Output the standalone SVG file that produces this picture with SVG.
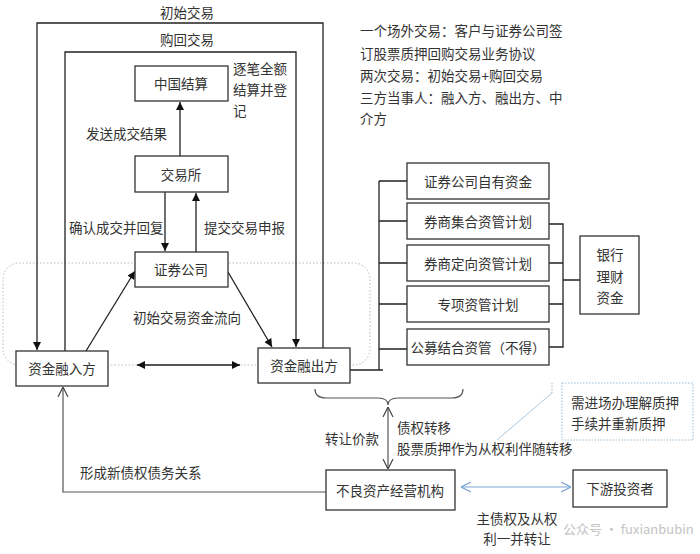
<svg xmlns="http://www.w3.org/2000/svg" width="700" height="554" viewBox="0 0 700 554">
<style>
text{font-family:"Noto Sans CJK SC","Liberation Sans",sans-serif;font-size:13.5px;fill:#333;}
.c{text-anchor:middle;dominant-baseline:central;}
.l{dominant-baseline:central;}
.box{fill:#fff;stroke:#333;stroke-width:1.3;}
.ln{fill:none;stroke:#222;stroke-width:1.3;}
.gl{fill:none;stroke:#555;stroke-width:1.2;}
.bl{fill:none;stroke:#7aa7d6;stroke-width:1.2;}
</style>
<defs>
<marker id="tri" viewBox="0 0 10 10" refX="10" refY="5" markerWidth="9" markerHeight="8" markerUnits="userSpaceOnUse" orient="auto-start-reverse">
<path d="M0,0 L10,5 L0,10 Z" fill="#111"/>
</marker>
<marker id="vee" viewBox="0 0 10 10" refX="10" refY="5" markerWidth="10" markerHeight="12" markerUnits="userSpaceOnUse" orient="auto-start-reverse">
<path d="M0,0 L10,5 L0,10" fill="none" stroke="#444" stroke-width="1.2"/>
</marker>
<marker id="bvee" viewBox="0 0 10 10" refX="10" refY="5" markerWidth="10" markerHeight="12" markerUnits="userSpaceOnUse" orient="auto-start-reverse">
<path d="M0,0 L10,5 L0,10" fill="none" stroke="#7aa7d6" stroke-width="1.2"/>
</marker>
</defs>
<rect width="700" height="554" fill="#fff"/>

<rect x="3" y="263" width="367" height="102" rx="16" fill="none" stroke="#bbb" stroke-width="1" stroke-dasharray="1.5 2"/>

<g id="connectors">
<path class="ln" d="M323,348 V23 H37 V350" marker-end="url(#tri)"/>
<path class="ln" d="M65,351 V52 H296 V347" marker-end="url(#tri)"/>
<path class="ln" d="M180,156 V102" marker-end="url(#tri)"/>
<path class="ln" d="M165,192 V251" marker-end="url(#tri)"/>
<path class="ln" d="M196,252 V193" marker-end="url(#tri)"/>
<path class="ln" d="M86,351 L135,271" marker-end="url(#tri)"/>
<path class="ln" d="M228,272 L272,347" marker-end="url(#tri)"/>
<path class="ln" d="M137,365 H240" marker-start="url(#tri)" marker-end="url(#tri)"/>
<path class="ln" d="M350,370 H383 M379,181 V370 M379,181 H407 M379,221 H407 M379,263 H407 M379,304 H407 M379,349 H407"/>
<path class="ln" d="M549,224 H563 V347 H549 M549,263 H563 M549,304 H563 M563,280 H580"/>
<path class="gl" d="M315,389 Q315,398 326,398 L378,398 Q388,398 388,405 Q388,398 398,398 L452,398 Q463,398 463,389"/>
<path class="gl" d="M388,407 V469" marker-start="url(#vee)" marker-end="url(#vee)"/>
<path d="M552,383 V393" fill="none" stroke="#9bbcd6" stroke-width="1" stroke-dasharray="1.5 1.5"/>
<path d="M552,393 L497,440" fill="none" stroke="#a9c8e0" stroke-width="1"/>
<path class="bl" d="M461,487 H571" marker-start="url(#bvee)" marker-end="url(#bvee)"/>
<path class="gl" d="M326,492 H63 V387" marker-end="url(#vee)"/>
</g>

<g id="n-zgjs"><rect class="box" x="135" y="66" width="93" height="35"/><text class="c" x="181" y="83">中国结算</text></g>
<g id="n-jys"><rect class="box" x="135" y="156" width="93" height="36"/><text class="c" x="181" y="174">交易所</text></g>
<g id="n-zqgs"><rect class="box" x="135" y="252" width="93" height="35"/><text class="c" x="181" y="269">证券公司</text></g>
<g id="n-rrf"><rect class="box" x="16" y="351" width="92" height="35"/><text class="c" x="62" y="368">资金融入方</text></g>
<g id="n-rcf"><rect class="box" x="258" y="348" width="92" height="35"/><text class="c" x="304" y="365">资金融出方</text></g>
<g id="n-b1"><rect class="box" x="407" y="163" width="142" height="36"/><text class="c" x="478" y="181">证券公司自有资金</text></g>
<g id="n-b2"><rect class="box" x="407" y="203" width="142" height="36"/><text class="c" x="478" y="221">券商集合资管计划</text></g>
<g id="n-b3"><rect class="box" x="407" y="245" width="142" height="36"/><text class="c" x="478" y="263">券商定向资管计划</text></g>
<g id="n-b4"><rect class="box" x="407" y="286" width="142" height="36"/><text class="c" x="478" y="304">专项资管计划</text></g>
<g id="n-b5"><rect class="box" x="407" y="329" width="142" height="36"/><text class="c" x="478" y="347">公募结合资管（不得）</text></g>
<g id="n-yh"><rect class="box" x="580" y="236" width="59" height="78"/><text class="c" x="610" y="254">银行</text><text class="c" x="610" y="276">理财</text><text class="c" x="610" y="297">资金</text></g>
<g id="n-bl"><rect class="box" x="326" y="470" width="129" height="40"/><text class="c" x="390" y="490">不良资产经营机构</text></g>
<g id="n-xy"><rect class="box" x="573" y="470" width="94" height="37"/><text class="c" x="620" y="488">下游投资者</text></g>
<g id="n-note"><rect x="562" y="383" width="131" height="57" fill="#fff" stroke="#9bbcd6" stroke-width="1" stroke-dasharray="1.5 1.5"/><text class="l" x="571" y="402">需进场办理解质押</text><text class="l" x="571" y="423">手续并重新质押</text></g>

<g id="labels">
<text class="c" x="187" y="12">初始交易</text>
<text class="c" x="187" y="39">购回交易</text>
<text class="l" x="233" y="68">逐笔全额</text>
<text class="l" x="233" y="89">结算并登</text>
<text class="l" x="233" y="110">记</text>
<text class="l" x="86" y="133">发送成交结果</text>
<text class="l" x="69" y="227">确认成交并回复</text>
<text class="l" x="204" y="227">提交交易申报</text>
<text class="c" x="187" y="317">初始交易资金流向</text>
<text class="l" x="360" y="30">一个场外交易：客户与证券公司签</text>
<text class="l" x="360" y="53">订股票质押回购交易业务协议</text>
<text class="l" x="360" y="75">两次交易：初始交易+购回交易</text>
<text class="l" x="360" y="97">三方当事人：融入方、融出方、中</text>
<text class="l" x="360" y="118">介方</text>
<text class="c" x="352" y="438">转让价款</text>
<text class="l" x="397" y="427">债权转移</text>
<text class="l" x="397" y="448">股票质押作为从权利伴随转移</text>
<text class="l" x="80" y="472">形成新债权债务关系</text>
<text class="c" x="517" y="518">主债权及从权</text>
<text class="c" x="517" y="538">利一并转让</text>
<text class="l" x="563" y="528" style="font-size:13px;fill:#c4c4c4">公众号 · fuxianbubin</text>
</g>
</svg>
